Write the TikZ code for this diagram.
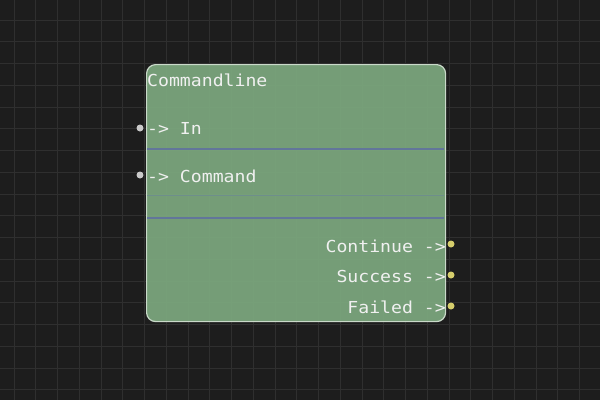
\documentclass[tikz,border=0pt]{standalone}
\usepackage{fontspec}
\setmonofont[FakeStretch=1.1]{DejaVu Sans Mono}
\usetikzlibrary{positioning}

\definecolor{canvas}{HTML}{1D1D1D}
\definecolor{gridline}{HTML}{2F2F2F}
\definecolor{nodegreen}{HTML}{7BA67D}
\definecolor{nodeborder}{HTML}{C9D9C9}
\definecolor{sepline}{HTML}{62769A}
\definecolor{indot}{HTML}{C9C9C9}
\definecolor{outdot}{HTML}{D6CE6C}

\begin{document}
\begin{tikzpicture}[x=1pt, y=-1pt,
                    node box/.style={draw=nodeborder, line width=1.2pt, fill=nodegreen, fill opacity=0.94,
                                     rounded corners=9pt, minimum width=299pt, minimum height=257pt, inner sep=0pt},
                    port text/.style={font=\ttfamily\fontsize{16.5}{18}\selectfont, text=white!94!black, inner sep=0pt},
                    in port/.style={circle, fill=indot, inner sep=0pt, minimum size=7pt},
                    out port/.style={circle, fill=outdot, inner sep=0pt, minimum size=7pt}]

  % canvas and grid
  \fill[canvas] (0,0) rectangle (600,400);
  \useasboundingbox (0,0) rectangle (600,400);
  \foreach \i in {0,...,26}
    \draw[gridline, line width=0.8pt] ({14+21.75*\i},0) -- ++(0,400);
  \foreach \j in {0,...,17}
    \draw[gridline, line width=0.8pt] (0,{20+21.75*\j}) -- ++(600,0);

  % the block
  \node[node box, anchor=north west] (body) at (146,64) {};
  \draw[sepline, line width=1.2pt] (147,149) -- (444,149);
  \draw[sepline!50!nodegreen, line width=1pt] (147,195.5) -- (444,195.5);
  \draw[sepline, line width=1.2pt] (147,218) -- (444,218);

  \node[port text, anchor=base west] (title) at (147,86) {Commandline};

  % inputs
  \node[port text, anchor=base west] (in) at (147,134) {-> In};
  \node[port text, anchor=base west] (command) at (147,182) {-> Command};
  \node[in port] (in dot) at (140,128) {};
  \node[in port] (command dot) at (140,175) {};

  % outputs
  \node[port text, anchor=base east] (continue) at (446,252) {Continue ->};
  \node[port text, anchor=base east] (success) at (446,282) {Success ->};
  \node[port text, anchor=base east] (failed) at (446,313) {Failed ->};
  \node[out port] (continue dot) at (451,244) {};
  \node[out port] (success dot) at (451,275) {};
  \node[out port] (failed dot) at (451,306) {};

\end{tikzpicture}
\end{document}
